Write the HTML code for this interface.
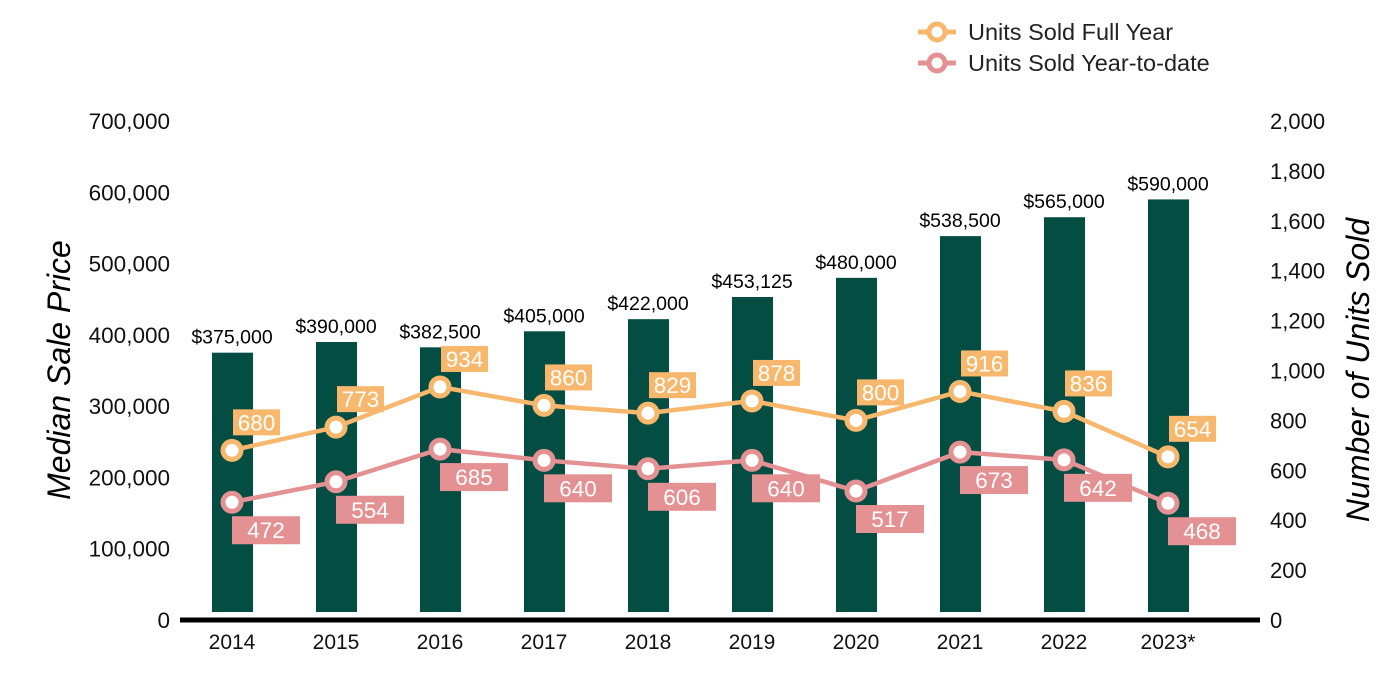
<!DOCTYPE html>
<html><head><meta charset="utf-8"><style>
body{margin:0;background:#fff;}
svg{font-family:"Liberation Sans",Arial,sans-serif;display:block}
</style></head><body>
<svg id="chart" width="1400" height="700" xmlns="http://www.w3.org/2000/svg">
<g id="legend">
 <g>
  <line x1="918" y1="32" x2="956" y2="32" stroke="#f7b86d" stroke-width="5"/>
  <circle cx="937" cy="32" r="8" fill="#fff" stroke="#f7b86d" stroke-width="5"/>
  <text x="968" y="40" font-size="23.5" fill="#222">Units Sold Full Year</text>
 </g>
 <g>
  <line x1="918" y1="63" x2="956" y2="63" stroke="#e39193" stroke-width="5"/>
  <circle cx="937" cy="63" r="8" fill="#fff" stroke="#e39193" stroke-width="5"/>
  <text x="968" y="71" font-size="23.5" fill="#222">Units Sold Year-to-date</text>
 </g>
</g>
<text transform="translate(70,370) rotate(-90)" text-anchor="middle" font-size="32" font-style="italic" fill="#000">Median Sale Price</text>
<text transform="translate(1369,370) rotate(-90)" text-anchor="middle" font-size="32" font-style="italic" fill="#000">Number of Units Sold</text>
<g id="axes"></g>
<g id="bars"></g>
<g id="lines"></g>
</svg>
<script>
const categories=["2014","2015","2016","2017","2018","2019","2020","2021","2022","2023*"];
const prices=[375000,390000,382500,405000,422000,453125,480000,538500,565000,590000];
const priceLabels=["$375,000","$390,000","$382,500","$405,000","$422,000","$453,125","$480,000","$538,500","$565,000","$590,000"];
const fullYear=[680,773,934,860,829,878,800,916,836,654];
const ytd=[472,554,685,640,606,640,517,673,642,468];
const leftTicks=[0,100000,200000,300000,400000,500000,600000,700000];
const rightTicks=[0,200,400,600,800,1000,1200,1400,1600,1800,2000];
const NS="http://www.w3.org/2000/svg";
const y0=620,yTop=121;
const yL=v=>y0-(v/700000)*(y0-yTop);
const yR=v=>y0-(v/2000)*(y0-yTop);
const xC=i=>232+i*104;
function mk(tag,attrs,parent,text){const e=document.createElementNS(NS,tag);for(const k in attrs)e.setAttribute(k,attrs[k]);if(text!==undefined)e.textContent=text;parent.appendChild(e);return e;}
const axes=document.getElementById('axes'),bars=document.getElementById('bars'),lines=document.getElementById('lines');
leftTicks.forEach(t=>{const e=mk('text',{x:170,y:yL(t)+8,'text-anchor':'end','font-size':22.5,fill:'#111'},axes,t.toLocaleString('en-US'));

});
rightTicks.forEach(t=>{const e=mk('text',{x:1270,y:yR(t)+8,'font-size':22,fill:'#111'},axes,t.toLocaleString('en-US'));

});
categories.forEach((c,i)=>{const e=mk('text',{x:xC(i),y:649,'text-anchor':'middle','font-size':21,fill:'#111'},axes,c);

});
prices.forEach((p,i)=>{const top=yL(p);
const r=mk('rect',{x:xC(i)-20,y:top,width:41,height:612-top,fill:'#034d42'},bars);


const t=mk('text',{x:xC(i),y:top-9,'text-anchor':'middle','font-size':19.5,fill:'#000'},bars,priceLabels[i]);

});
const ax=mk('line',{x1:180,y1:620,x2:1260,y2:620,stroke:'#000','stroke-width':5},axes);


function series(vals,color,name,labelAbove){
 const pts=vals.map((v,i)=>xC(i)+','+yR(v)).join(' ');
 const pl=mk('polyline',{points:pts,fill:'none',stroke:color,'stroke-width':4.5},lines);
 
 
 vals.forEach((v,i)=>{const cx=xC(i),cy=yR(v);
  const c=mk('circle',{cx:cx,cy:cy,r:9,fill:'#fff',stroke:color,'stroke-width':5},lines);
  
  
  let bx,by,bw,bh;
  if(labelAbove){bx=cx+1;by=cy-41;bw=47;bh=26;}else{bx=cx;by=cy+14;bw=68;bh=28;}
  const b=mk('rect',{x:bx,y:by,width:bw,height:bh,fill:color},lines);
  
  
  const t=mk('text',{x:bx+bw/2,y:by+bh/2+8,'text-anchor':'middle','font-size':22.5,fill:'#fff'},lines,String(v));
  
  
 });
}
series(fullYear,'#f7b86d','full-year',true);
series(ytd,'#e39193','ytd',false);
</script>
</body></html>
